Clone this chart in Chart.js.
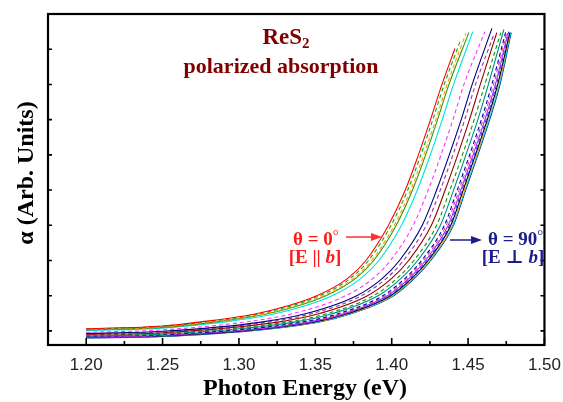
<!DOCTYPE html>
<html>
<head>
<meta charset="utf-8">
<script src="https://cdn.jsdelivr.net/npm/chart.js@4.4.0/dist/chart.umd.min.js"></script>
<style>
  html, body { margin: 0; padding: 0; background: #fff; }
  #wrap { width: 563px; height: 402px; }
</style>
</head>
<body>
<div id="wrap"><canvas id="myChart" width="563" height="402"></canvas></div>
<script>
// polarization angle of each curve, degrees
const angles = [0, 5, 10, 15, 20, 25, 30, 35, 40, 45, 50, 55, 60, 65, 70, 75, 80, 85, 90];
const colors = ['#ff0000', '#00b000', '#ff9900', '#339900', '#00e0e0', '#ff33ff', '#000080', '#993399', '#990000', '#009900',
                '#008b8b', '#0000aa', '#ff3399', '#9933ff', '#3333ff', '#000000', '#ff9900', '#00dddd', '#000099'];
const dashed = [false, true, true, false, false, true, false, true, false, true,
                false, true, true, false, true, false, true, false, false];

const xTicks = [1.20, 1.25, 1.30, 1.35, 1.40, 1.45, 1.50];
const xMinor = [1.225, 1.275, 1.325, 1.375, 1.425, 1.475];
const yTicks = [0, 1, 2, 3, 4, 5, 6, 7, 8, 9];

// [photon energy (eV), alpha]
const th0  = [[1.20, 0.06], [1.25, 0.14], [1.2739, 0.25], [1.3126, 0.5], [1.3509, 1], [1.3714, 1.5], [1.3831, 2], [1.3979, 3], [1.4089, 4], [1.4175, 5], [1.4254, 6], [1.4329, 7], [1.4414, 8.02]];
const th5  = [[1.20, 0.05], [1.25, 0.13], [1.2770, 0.25], [1.3151, 0.5], [1.3529, 1], [1.3731, 1.5], [1.3848, 2], [1.3996, 3], [1.4105, 4], [1.4191, 5], [1.4269, 6], [1.4344, 7], [1.4453, 8.28]];
const th10 = [[1.20, 0.04], [1.25, 0.11], [1.2809, 0.25], [1.3182, 0.5], [1.3554, 1], [1.3753, 1.5], [1.3869, 2], [1.4017, 3], [1.4125, 4], [1.4210, 5], [1.4289, 6], [1.4363, 7], [1.4486, 8.45]];
const th15 = [[1.20, 0.03], [1.25, 0.10], [1.2833, 0.25], [1.3200, 0.5], [1.3569, 1], [1.3766, 1.5], [1.3882, 2], [1.4030, 3], [1.4136, 4], [1.4222, 5], [1.4300, 6], [1.4375, 7], [1.4505, 8.47]];
const th20 = [[1.20, 0.01], [1.25, 0.08], [1.2895, 0.25], [1.3249, 0.5], [1.3610, 1], [1.3801, 1.5], [1.3916, 2], [1.4064, 3], [1.4168, 4], [1.4253, 5], [1.4331, 6], [1.4405, 7], [1.4531, 8.5]];
const th25 = [[1.20, -0.04], [1.25, 0.03], [1.3035, 0.25], [1.3360, 0.5], [1.3700, 1], [1.3880, 1.5], [1.3992, 2], [1.4141, 3], [1.4239, 4], [1.4323, 5], [1.4401, 6], [1.4473, 7], [1.4610, 8.5]];
const th30 = [[1.20, -0.07], [1.25, -0.01], [1.3145, 0.25], [1.3447, 0.5], [1.3771, 1], [1.3941, 1.5], [1.4051, 2], [1.4200, 3], [1.4294, 4], [1.4377, 5], [1.4455, 6], [1.4527, 7], [1.4656, 8.59]];
const th35 = [[1.20, -0.09], [1.25, -0.03], [1.3191, 0.25], [1.3484, 0.5], [1.3801, 1], [1.3967, 1.5], [1.4077, 2], [1.4226, 3], [1.4318, 4], [1.4401, 5], [1.4478, 6], [1.4549, 7], [1.4669, 8.42]];
const th40 = [[1.20, -0.10], [1.25, -0.05], [1.3254, 0.25], [1.3533, 0.5], [1.3841, 1], [1.4002, 1.5], [1.4111, 2], [1.4260, 3], [1.4350, 4], [1.4432, 5], [1.4509, 6], [1.4580, 7], [1.4688, 8.47]];
const th45 = [[1.20, -0.12], [1.25, -0.07], [1.3316, 0.25], [1.3583, 0.5], [1.3881, 1], [1.4037, 1.5], [1.4145, 2], [1.4294, 3], [1.4381, 4], [1.4463, 5], [1.4540, 6], [1.4610, 7], [1.4714, 8.47]];
const th50 = [[1.20, -0.14], [1.25, -0.09], [1.3363, 0.25], [1.3620, 0.5], [1.3911, 1], [1.4063, 1.5], [1.4170, 2], [1.4319, 3], [1.4405, 4], [1.4486, 5], [1.4564, 6], [1.4633, 7], [1.4734, 8.56]];
const th55 = [[1.20, -0.15], [1.25, -0.11], [1.3410, 0.25], [1.3657, 0.5], [1.3942, 1], [1.4089, 1.5], [1.4196, 2], [1.4345, 3], [1.4429, 4], [1.4510, 5], [1.4587, 6], [1.4656, 7], [1.4747, 8.5]];
const th60 = [[1.20, -0.16], [1.25, -0.12], [1.3433, 0.25], [1.3675, 0.5], [1.3957, 1], [1.4102, 1.5], [1.4208, 2], [1.4357, 3], [1.4441, 4], [1.4521, 5], [1.4598, 6], [1.4667, 7], [1.4753, 8.47]];
const th65 = [[1.20, -0.17], [1.25, -0.13], [1.3457, 0.25], [1.3694, 0.5], [1.3972, 1], [1.4115, 1.5], [1.4221, 2], [1.4370, 3], [1.4452, 4], [1.4533, 5], [1.4610, 6], [1.4679, 7], [1.4760, 8.45]];
const th70 = [[1.20, -0.18], [1.25, -0.13], [1.3472, 0.25], [1.3706, 0.5], [1.3982, 1], [1.4124, 1.5], [1.4230, 2], [1.4379, 3], [1.4460, 4], [1.4541, 5], [1.4618, 6], [1.4686, 7], [1.4766, 8.5]];
const th75 = [[1.20, -0.18], [1.25, -0.14], [1.3488, 0.25], [1.3718, 0.5], [1.3992, 1], [1.4133, 1.5], [1.4238, 2], [1.4387, 3], [1.4468, 4], [1.4548, 5], [1.4626, 6], [1.4694, 7], [1.4773, 8.47]];
const th80 = [[1.20, -0.19], [1.25, -0.14], [1.3503, 0.25], [1.3731, 0.5], [1.4002, 1], [1.4141, 1.5], [1.4247, 2], [1.4396, 3], [1.4476, 4], [1.4556, 5], [1.4633, 6], [1.4701, 7], [1.4773, 8.42]];
const th85 = [[1.20, -0.19], [1.25, -0.15], [1.3511, 0.25], [1.3737, 0.5], [1.4007, 1], [1.4146, 1.5], [1.4251, 2], [1.4400, 3], [1.4480, 4], [1.4560, 5], [1.4637, 6], [1.4705, 7], [1.4779, 8.47]];
const th90 = [[1.20, -0.20], [1.25, -0.16], [1.3519, 0.25], [1.3743, 0.5], [1.4012, 1], [1.4150, 1.5], [1.4255, 2], [1.4404, 3], [1.4484, 4], [1.4564, 5], [1.4641, 6], [1.4709, 7], [1.4782, 8.47]];

const curves = [th0, th5, th10, th15, th20, th25, th30, th35, th40, th45, th50, th55, th60, th65, th70, th75, th80, th85, th90];

const SERIF = '"Liberation Serif", "DejaVu Serif", serif';

const datasets = curves.map((c, i) => ({
    label: angles[i] + '°',
    data: c.map(p => ({ x: p[0], y: p[1] })),
    borderColor: colors[i],
    borderWidth: 1.1,
    borderDash: dashed[i] ? [4, 3] : [],
    pointRadius: 0,
    fill: false,
    cubicInterpolationMode: 'monotone'
}));

// draw a line of text made of several font runs
function textRuns(ctx, parts, x, y, align) {
    let w = 0;
    parts.forEach(p => { ctx.font = p.font; w += ctx.measureText(p.t).width + (p.dx || 0); });
    let cx = align === 'center' ? x - w / 2 : x;
    parts.forEach(p => {
        ctx.font = p.font;
        ctx.fillText(p.t, cx, y + (p.dy || 0));
        cx += ctx.measureText(p.t).width + (p.dx || 0);
    });
}

function arrow(ctx, x0, x1, y, color) {
    ctx.strokeStyle = color;
    ctx.fillStyle = color;
    ctx.lineWidth = 1.5;
    ctx.beginPath();
    ctx.moveTo(x0, y);
    ctx.lineTo(x1 - 8, y);
    ctx.stroke();
    ctx.beginPath();
    ctx.moveTo(x1, y);
    ctx.lineTo(x1 - 11, y - 4);
    ctx.lineTo(x1 - 11, y + 4);
    ctx.closePath();
    ctx.fill();
}

const frame = {
    id: 'frame',
    afterDraw(chart) {
        const { ctx, chartArea: a, scales: { x, y } } = chart;
        ctx.save();
        ctx.strokeStyle = '#000';
        ctx.lineWidth = 2.2;
        ctx.strokeRect(a.left, a.top, a.right - a.left, a.bottom - a.top);

        ctx.lineWidth = 1.6;
        ctx.beginPath();
        xTicks.forEach(v => {
            const px = x.getPixelForValue(v);
            ctx.moveTo(px, a.bottom); ctx.lineTo(px, a.bottom - 7);
        });
        xMinor.forEach(v => {
            const px = x.getPixelForValue(v);
            ctx.moveTo(px, a.bottom); ctx.lineTo(px, a.bottom - 4);
        });
        yTicks.forEach(v => {
            const py = y.getPixelForValue(v);
            ctx.moveTo(a.left, py); ctx.lineTo(a.left + 4, py);
            ctx.moveTo(a.right, py); ctx.lineTo(a.right - 4, py);
        });
        ctx.stroke();

        ctx.textBaseline = 'alphabetic';
        ctx.textAlign = 'left';

        // axis titles
        ctx.fillStyle = '#000';
        textRuns(ctx, [{ t: 'Photon Energy (eV)', font: 'bold 24px ' + SERIF }], 305, 395, 'center');
        ctx.save();
        ctx.translate(33, 173);
        ctx.rotate(-Math.PI / 2);
        textRuns(ctx, [{ t: 'α (Arb. Units)', font: 'bold 24px ' + SERIF }], 0, 0, 'center');
        ctx.restore();

        // title
        ctx.fillStyle = '#800000';
        textRuns(ctx, [
            { t: 'ReS', font: 'bold 23px ' + SERIF },
            { t: '2', font: 'bold 15px ' + SERIF, dy: 4 }
        ], 286, 44, 'center');
        textRuns(ctx, [{ t: 'polarized absorption', font: 'bold 22px ' + SERIF }], 281, 73, 'center');

        // theta = 0
        ctx.fillStyle = '#ff1a1a';
        textRuns(ctx, [
            { t: 'θ = 0', font: 'bold 19px ' + SERIF },
            { t: '°', font: '15px ' + SERIF, dy: -5 }
        ], 293, 245, 'left');
        textRuns(ctx, [
            { t: '[E || ', font: 'bold 19px ' + SERIF },
            { t: 'b', font: 'bold italic 19px ' + SERIF },
            { t: ']', font: 'bold 19px ' + SERIF }
        ], 315, 263, 'center');
        arrow(ctx, 346, 382, 237, '#ff3030');

        // theta = 90
        ctx.fillStyle = '#1c1c8c';
        textRuns(ctx, [
            { t: 'θ = 90', font: 'bold 19px ' + SERIF },
            { t: '°', font: '15px ' + SERIF, dy: -5 }
        ], 488, 245, 'left');
        textRuns(ctx, [
            { t: '[E ⊥ ', font: 'bold 19px ' + SERIF },
            { t: 'b', font: 'bold italic 19px ' + SERIF },
            { t: ']', font: 'bold 19px ' + SERIF }
        ], 513, 263, 'center');
        arrow(ctx, 450, 482, 240, '#1c1c8c');

        ctx.restore();
    }
};

new Chart(document.getElementById('myChart'), {
    type: 'line',
    data: { datasets: datasets },
    options: {
        responsive: false,
        devicePixelRatio: 1,
        animation: false,
        layout: { padding: { top: 14, right: 18, left: 0, bottom: 0 } },
        plugins: { legend: { display: false }, tooltip: { enabled: false } },
        scales: {
            x: {
                type: 'linear',
                min: 1.175,
                max: 1.50,
                afterBuildTicks: s => { s.ticks = xTicks.map(v => ({ value: v })); },
                afterFit: s => { s.height = 57; },
                grid: { display: false },
                border: { display: false },
                ticks: {
                    padding: 2,
                    color: '#222',
                    font: { family: '"Liberation Sans", Arial, sans-serif', size: 17 },
                    callback: v => v.toFixed(2),
                    maxRotation: 0
                }
            },
            y: {
                min: -0.4,
                max: 9,
                afterFit: s => { s.width = 48; },
                grid: { display: false },
                border: { display: false },
                ticks: { display: false }
            }
        }
    },
    plugins: [frame]
});
</script>
</body>
</html>
